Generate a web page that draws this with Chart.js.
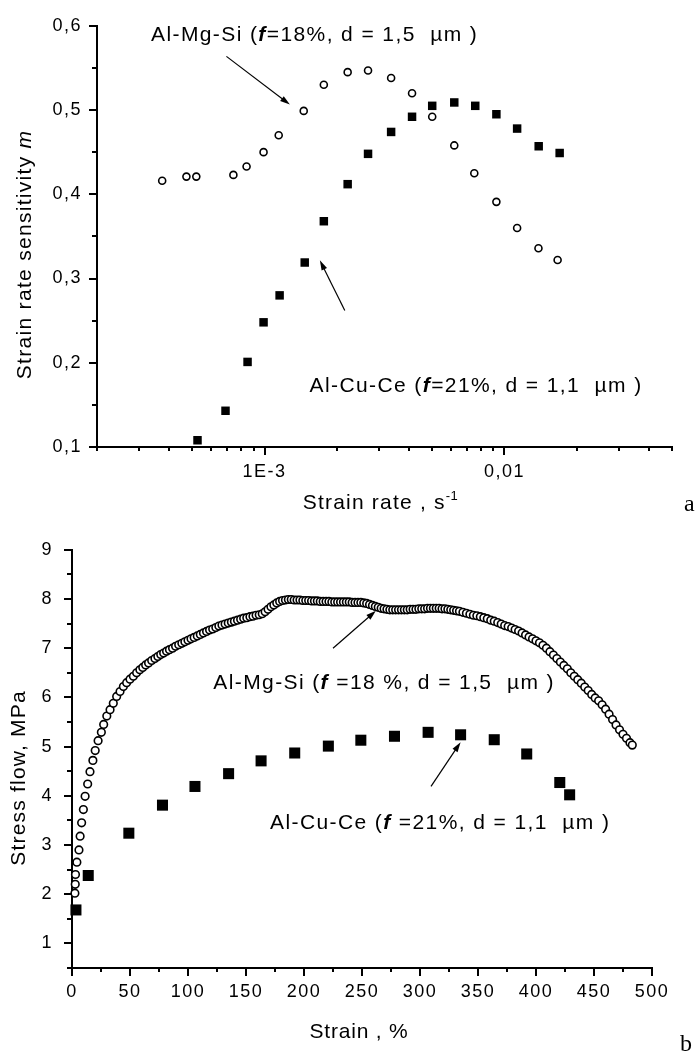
<!DOCTYPE html>
<html><head><meta charset="utf-8">
<script src="https://cdn.jsdelivr.net/npm/chart.js@4.4.1/dist/chart.umd.min.js"></script>
<style>
html,body{margin:0;padding:0;background:#fff;}
#wrap{position:relative;width:696px;height:1054px;overflow:hidden;background:#fff;}
#c1{position:absolute;left:0;top:0;}
#c2{position:absolute;left:0;top:520px;}
</style></head><body>
<div id="wrap">
<canvas id="c1" width="696" height="520"></canvas>
<canvas id="c2" width="696" height="534"></canvas>
</div>
<script>
// ---------- DATA: panel a (strain rate sensitivity vs strain rate) ----------
const rateMgSi = [3.74e-4, 4.72e-4, 5.19e-4, 7.41e-4, 8.41e-4, 9.9e-4, 1.145e-3, 1.456e-3, 1.766e-3, 2.22e-3, 2.70e-3, 3.37e-3, 4.12e-3, 5.0e-3, 6.18e-3, 7.49e-3, 9.26e-3, 1.13e-2, 1.387e-2, 1.667e-2];
const mMgSi    = [0.416, 0.421, 0.421, 0.423, 0.433, 0.450, 0.470, 0.499, 0.530, 0.545, 0.547, 0.538, 0.520, 0.492, 0.458, 0.425, 0.391, 0.360, 0.336, 0.322];
const rateCuCe = [5.25e-4, 6.87e-4, 8.49e-4, 9.9e-4, 1.155e-3, 1.47e-3, 1.766e-3, 2.22e-3, 2.70e-3, 3.37e-3, 4.12e-3, 5.0e-3, 6.18e-3, 7.56e-3, 9.26e-3, 1.13e-2, 1.39e-2, 1.70e-2];
const mCuCe    = [0.108, 0.143, 0.201, 0.248, 0.280, 0.319, 0.368, 0.412, 0.448, 0.474, 0.492, 0.505, 0.509, 0.505, 0.495, 0.478, 0.457, 0.449];

// ---------- DATA: panel b (flow stress vs strain) ----------
const strainMgSi = [2.5, 2.8, 3.0, 4.2, 6.0, 7.0, 8.3, 9.8, 11.3, 13.5, 15.5, 18.0, 20.0, 22.5, 25.3, 27.3, 30.0, 32.8, 35.6, 38.5,
  41.4, 44.3, 47.1, 50.0, 52.9, 55.7, 58.5, 61.0, 63.5, 66.0, 68.7, 71.5, 74.0, 76.5, 79.0, 81.5, 84.0, 86.7, 89.3, 92.0,
  94.7, 97.3, 100.0, 102.6, 105.3, 108.0, 110.6, 113.3, 116.0, 118.6, 121.3, 124.0, 126.6, 129.3, 132.0, 134.7, 137.4, 140.0, 142.7, 145.4,
  148.0, 150.7, 153.4, 156.0, 158.7, 161.4, 164.0, 166.5, 169.0, 171.5, 174.0, 176.5, 179.0, 181.5, 184.0, 186.5, 189.0, 191.5, 194.0, 196.5,
  199.0, 201.5, 204.0, 206.5, 209.0, 211.5, 214.0, 216.5, 219.0, 221.5, 224.0, 226.5, 229.0, 231.5, 234.0, 236.5, 239.0, 241.5, 244.0, 246.5,
  249.0, 251.5, 254.0, 256.5, 259.0, 261.5, 264.0, 266.5, 269.0, 271.5, 274.0, 276.5, 279.0, 281.5, 284.0, 286.5, 289.0, 291.5, 294.0, 296.5,
  299.0, 301.5, 304.0, 306.5, 309.0, 311.5, 314.0, 316.5, 319.0, 321.5, 324.0, 326.5, 329.0, 331.5, 334.0, 337, 340, 343, 346, 349,
  352, 355, 358, 361, 364, 367, 370, 373, 376, 379, 382, 385, 388, 391, 394, 397, 400, 403, 406, 409,
  412, 415, 418, 421, 424, 427, 430, 433, 436, 439, 442, 445, 448, 451, 454, 457, 460, 463, 466, 469,
  472, 475, 478, 481, 483];
const stressMgSi = [2.02, 2.20, 2.40, 2.65, 2.90, 3.18, 3.45, 3.72, 3.99, 4.24, 4.49, 4.72, 4.92, 5.12, 5.29, 5.45, 5.62, 5.75, 5.88, 6.02,
  6.12, 6.22, 6.30, 6.37, 6.43, 6.50, 6.56, 6.61, 6.66, 6.70, 6.75, 6.79, 6.83, 6.87, 6.90, 6.94, 6.97, 7.00, 7.04, 7.07,
  7.10, 7.13, 7.16, 7.19, 7.22, 7.25, 7.28, 7.31, 7.34, 7.37, 7.39, 7.42, 7.45, 7.47, 7.49, 7.51, 7.53, 7.55, 7.57, 7.59,
  7.61, 7.62, 7.64, 7.65, 7.67, 7.68, 7.70, 7.74, 7.79, 7.84, 7.88, 7.92, 7.95, 7.97, 7.98, 7.99, 7.99, 7.98, 7.98, 7.98,
  7.97, 7.97, 7.97, 7.96, 7.96, 7.96, 7.95, 7.95, 7.95, 7.95, 7.94, 7.94, 7.94, 7.94, 7.94, 7.94, 7.94, 7.93, 7.93, 7.93,
  7.93, 7.92, 7.91, 7.89, 7.87, 7.85, 7.83, 7.81, 7.80, 7.79, 7.78, 7.78, 7.78, 7.78, 7.78, 7.78, 7.78, 7.79, 7.79, 7.79,
  7.80, 7.80, 7.80, 7.81, 7.81, 7.81, 7.81, 7.81, 7.80, 7.80, 7.79, 7.78, 7.77, 7.76, 7.75, 7.73, 7.71, 7.69, 7.67, 7.66,
  7.64, 7.62, 7.60, 7.57, 7.55, 7.52, 7.49, 7.46, 7.44, 7.41, 7.38, 7.35, 7.31, 7.27, 7.23, 7.19, 7.15, 7.11, 7.06, 7.00,
  6.93, 6.86, 6.79, 6.72, 6.65, 6.58, 6.50, 6.43, 6.36, 6.29, 6.21, 6.14, 6.06, 5.99, 5.93, 5.85, 5.76, 5.66, 5.55, 5.44,
  5.34, 5.25, 5.17, 5.08, 5.03];
const strainCuCe = [3.4, 14, 49, 78, 106, 135, 163, 192, 221, 249, 278, 307, 335, 364, 392, 420.5, 429];
const stressCuCe = [1.68, 2.38, 3.24, 3.81, 4.19, 4.45, 4.71, 4.87, 5.01, 5.13, 5.21, 5.29, 5.24, 5.14, 4.85, 4.27, 4.02];

// ---------- TICKS ----------
const rateMajorTicks = [1e-3, 1e-2];
const rateTickLabels = ['1E-3', '0,01'];
const rateMinorTicks = [2e-4, 3e-4, 4e-4, 5e-4, 6e-4, 7e-4, 8e-4, 9e-4, 2e-3, 3e-3, 4e-3, 5e-3, 6e-3, 7e-3, 8e-3, 9e-3, 2e-2, 3e-2, 4e-2, 5e-2];
const mMajorTicks = [0.1, 0.2, 0.3, 0.4, 0.5, 0.6];
const mTickLabels = ['0,1', '0,2', '0,3', '0,4', '0,5', '0,6'];
const mMinorTicks = [0.15, 0.25, 0.35, 0.45, 0.55];
const strainMajorTicks = [0, 50, 100, 150, 200, 250, 300, 350, 400, 450, 500];
const strainTickLabels = ['0', '50', '100', '150', '200', '250', '300', '350', '400', '450', '500'];
const strainMinorTicks = [25, 75, 125, 175, 225, 275, 325, 375, 425, 475];
const stressMajorTicks = [1, 2, 3, 4, 5, 6, 7, 8, 9];
const stressTickLabels = ['1', '2', '3', '4', '5', '6', '7', '8', '9'];
const stressMinorTicks = [0.5, 1.5, 2.5, 3.5, 4.5, 5.5, 6.5, 7.5, 8.5];

// ---------- TEXT ----------
const labelMgSi = ['Al-Mg-Si (', 'f', '=18%, d = 1,5  µm )'];
const labelCuCe = ['Al-Cu-Ce (', 'f', '=21%, d = 1,1  µm )'];
const labelMgSiB = ['Al-Mg-Si (', 'f', ' =18 %, d = 1,5  µm )'];
const labelCuCeB = ['Al-Cu-Ce (', 'f', ' =21%, d = 1,1  µm )'];

const SANS = '"Liberation Sans", Arial, Helvetica, sans-serif';
const SERIF = '"Liberation Serif", "Times New Roman", serif';
const zip = (xs, ys) => xs.map((x, i) => ({x: x, y: ys[i]}));

function richDraw(ctx, parts, x, y, align) {
  let w = 0;
  for (const p of parts) { ctx.font = p.font; ctx.letterSpacing = p.ls || '0px'; w += ctx.measureText(p.t).width; }
  let cx = align === 'center' ? x - w / 2 : x;
  ctx.textAlign = 'left'; ctx.textBaseline = 'alphabetic';
  for (const p of parts) {
    ctx.font = p.font; ctx.letterSpacing = p.ls || '0px';
    ctx.fillText(p.t, cx, y + (p.dy || 0));
    cx += ctx.measureText(p.t).width;
  }
}
function noteParts(lbl) {
  return [
    {t: lbl[0], font: '21px ' + SANS, ls: '1.4px'},
    {t: lbl[1], font: 'italic bold 21px ' + SANS, ls: '1.4px'},
    {t: lbl[2], font: '21px ' + SANS, ls: '1.4px'}
  ];
}
function arrow(ctx, x1, y1, x2, y2) {
  const a = Math.atan2(y2 - y1, x2 - x1), L = 10, W = 3;
  ctx.beginPath(); ctx.moveTo(x1, y1); ctx.lineTo(x2 - 6 * Math.cos(a), y2 - 6 * Math.sin(a)); ctx.stroke();
  ctx.beginPath();
  ctx.moveTo(x2, y2);
  ctx.lineTo(x2 - L * Math.cos(a) + W * Math.sin(a), y2 - L * Math.sin(a) - W * Math.cos(a));
  ctx.lineTo(x2 - L * Math.cos(a) - W * Math.sin(a), y2 - L * Math.sin(a) + W * Math.cos(a));
  ctx.closePath(); ctx.fill();
}

function decoPlugin(cfg) {
  return {
    id: 'deco',
    beforeUpdate(chart) { chart.ctx.letterSpacing = '1.5px'; },
    beforeDraw(chart) { chart.ctx.letterSpacing = '1.5px'; },
    afterDraw(chart) {
      const {ctx, chartArea: a, scales: {x, y}} = chart;
      ctx.save();
      ctx.strokeStyle = '#000'; ctx.fillStyle = '#000'; ctx.lineWidth = 2;
      const xt = (vals, len) => vals.forEach(v => { const p = Math.round(x.getPixelForValue(v)); ctx.beginPath(); ctx.moveTo(p, a.bottom); ctx.lineTo(p, a.bottom + len); ctx.stroke(); });
      const yt = (vals, len) => vals.forEach(v => { const p = Math.round(y.getPixelForValue(v)); ctx.beginPath(); ctx.moveTo(a.left, p); ctx.lineTo(a.left - len, p); ctx.stroke(); });
      xt(cfg.xMajor, 8); xt(cfg.xMinor, 4);
      yt(cfg.yMajor, 8); yt(cfg.yMinor, 5);
      richDraw(ctx, cfg.xTitle, (a.left + a.right) / 2 + cfg.xTitleDx, a.bottom + cfg.xTitleDy, 'center');
      ctx.save();
      ctx.translate(cfg.yTitleX, (a.top + a.bottom) / 2 + cfg.yTitleDy);
      ctx.rotate(-Math.PI / 2);
      richDraw(ctx, cfg.yTitle, 0, 0, 'center');
      ctx.restore();
      for (const n of cfg.notes) {
        richDraw(ctx, noteParts(n.label), x.getPixelForValue(n.x), y.getPixelForValue(n.y), 'left');
      }
      ctx.lineWidth = 1.2;
      for (const r of cfg.arrows) {
        arrow(ctx, x.getPixelForValue(r.from[0]), y.getPixelForValue(r.from[1]), x.getPixelForValue(r.to[0]), y.getPixelForValue(r.to[1]));
      }
      ctx.font = '24px ' + SERIF; ctx.letterSpacing = '0px'; ctx.textAlign = 'left'; ctx.textBaseline = 'alphabetic';
      ctx.fillText(cfg.panel, cfg.panelX, cfg.panelY);
      ctx.restore();
    }
  };
}

const tickFont = {family: SANS, size: 18};

// ---------- PANEL a ----------
new Chart(document.getElementById('c1'), {
  type: 'scatter',
  data: {datasets: [
    {label: 'Al-Mg-Si (f=18%, d=1,5 µm)', data: zip(rateMgSi, mMgSi), pointStyle: 'circle', pointRadius: 3.5, pointBorderWidth: 1.6, pointBackgroundColor: '#fff', pointBorderColor: '#000', clip: false},
    {label: 'Al-Cu-Ce (f=21%, d=1,1 µm)', data: zip(rateCuCe, mCuCe), pointStyle: 'rect', pointRadius: 6, pointBorderWidth: 0, pointBackgroundColor: '#000', pointBorderColor: '#000', clip: false}
  ]},
  options: {
    responsive: false, animation: false, events: [],
    layout: {padding: {left: 0, top: 21, right: 24, bottom: 0}},
    plugins: {legend: {display: false}, tooltip: {enabled: false}},
    scales: {
      x: {type: 'logarithmic', min: 2e-4, max: 5e-2,
        afterFit: s => { s.height = 73; },
        afterBuildTicks: s => { s.ticks = rateMajorTicks.map(v => ({value: v})); },
        ticks: {autoSkip: false, maxRotation: 0, padding: 14, color: '#000', font: tickFont,
          callback: v => { const i = rateMajorTicks.indexOf(v); return i >= 0 ? rateTickLabels[i] : ''; }},
        grid: {display: false, drawTicks: false}, border: {display: true, color: '#000', width: 2}},
      y: {type: 'linear', min: 0.1, max: 0.6,
        afterFit: s => { s.width = 97; },
        afterBuildTicks: s => { s.ticks = mMajorTicks.map(v => ({value: v})); },
        ticks: {autoSkip: false, padding: 15, color: '#000', font: tickFont,
          callback: (v, i) => mTickLabels[i]},
        grid: {display: false, drawTicks: false}, border: {display: true, color: '#000', width: 2}}
    }
  },
  plugins: [decoPlugin({
    xMajor: rateMajorTicks, xMinor: rateMinorTicks, yMajor: mMajorTicks, yMinor: mMinorTicks,
    xTitle: [{t: 'Strain rate , s', font: '21px ' + SANS, ls: '1.2px'}, {t: '-1', font: '13px ' + SANS, ls: '0.5px', dy: -9}],
    xTitleDx: -4, xTitleDy: 62,
    yTitle: [{t: 'Strain rate sensitivity ', font: '21px ' + SANS, ls: '1.3px'}, {t: 'm', font: 'italic 21px ' + SANS, ls: '1.3px'}],
    yTitleX: 31, yTitleDy: 18,
    notes: [{label: labelMgSi, x: 3.36e-4, y: 0.5825}, {label: labelCuCe, x: 1.54e-3, y: 0.1649}],
    arrows: [{from: [6.93e-4, 0.5637], to: [1.275e-3, 0.5065]}, {from: [2.16e-3, 0.262], to: [1.70e-3, 0.3216]}],
    panel: 'a', panelX: 684, panelY: 511
  })]
});

// ---------- PANEL b ----------
new Chart(document.getElementById('c2'), {
  type: 'scatter',
  data: {datasets: [
    {label: 'Al-Mg-Si (f=18%, d=1,5 µm)', data: zip(strainMgSi, stressMgSi), pointStyle: 'circle', pointRadius: 3.8, pointBorderWidth: 1.6, pointBackgroundColor: '#fff', pointBorderColor: '#000', clip: false},
    {label: 'Al-Cu-Ce (f=21%, d=1,1 µm)', data: zip(strainCuCe, stressCuCe), pointStyle: 'rect', pointRadius: 7.8, pointBorderWidth: 0, pointBackgroundColor: '#000', pointBorderColor: '#000', clip: false}
  ]},
  options: {
    responsive: false, animation: false, events: [],
    layout: {padding: {left: 0, top: 22, right: 44, bottom: 0}},
    plugins: {legend: {display: false}, tooltip: {enabled: false}},
    scales: {
      x: {type: 'linear', min: 0, max: 500,
        afterFit: s => { s.height = 86; },
        afterBuildTicks: s => { s.ticks = strainMajorTicks.map(v => ({value: v})); },
        ticks: {autoSkip: false, maxRotation: 0, padding: 13, color: '#000', font: tickFont,
          callback: (v, i) => strainTickLabels[i]},
        grid: {display: false, drawTicks: false}, border: {display: true, color: '#000', width: 2}},
      y: {type: 'linear', min: 0.5, max: 9,
        afterFit: s => { s.width = 72; },
        afterBuildTicks: s => { s.ticks = stressMajorTicks.map(v => ({value: v})); },
        ticks: {autoSkip: false, padding: 19, color: '#000', font: tickFont,
          callback: (v, i) => stressTickLabels[i]},
        grid: {display: false, drawTicks: false}, border: {display: true, color: '#000', width: 2}}
    }
  },
  plugins: [decoPlugin({
    xMajor: strainMajorTicks, xMinor: strainMinorTicks, yMajor: stressMajorTicks, yMinor: stressMinorTicks,
    xTitle: [{t: 'Strain , %', font: '21px ' + SANS, ls: '0.8px'}],
    xTitleDx: -3, xTitleDy: 70,
    yTitle: [{t: 'Stress flow, MPa', font: '21px ' + SANS, ls: '1.2px'}],
    yTitleX: 25, yTitleDy: 19,
    notes: [{label: labelMgSiB, x: 121.8, y: 6.18}, {label: labelCuCeB, x: 170.7, y: 3.32}],
    arrows: [{from: [225, 7.0], to: [262, 7.76]}, {from: [309.5, 4.19], to: [335, 5.09]}],
    panel: 'b', panelX: 680, panelY: 531
  })]
});
</script>
</body></html>
